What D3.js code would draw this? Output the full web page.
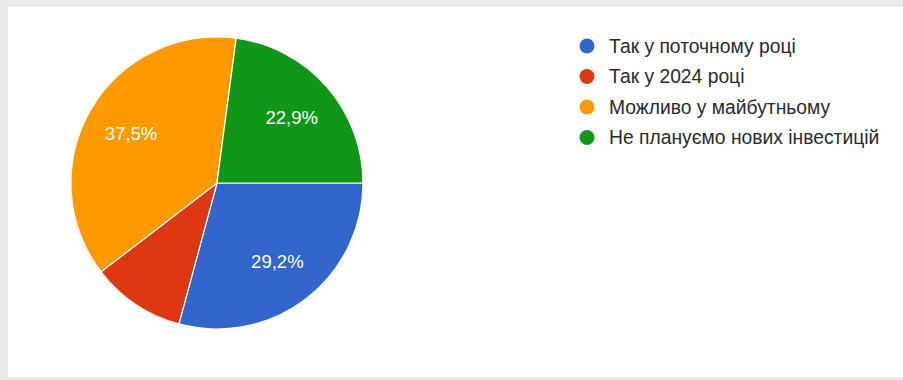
<!DOCTYPE html>
<html>
<head>
<meta charset="utf-8">
<script src="https://cdn.jsdelivr.net/npm/d3@7"></script>
<style>
  html, body { margin: 0; padding: 0; background: #e9e9e9; }
  svg { display: block; }
</style>
</head>
<body>
<svg id="chart" width="903" height="380"></svg>
<script>
const categories = ["Так у поточному році", "Так у 2024 році", "Можливо у майбутньому", "Не плануємо нових інвестицій"];
const values = [29.2, 10.4, 37.5, 22.9];
const labels = ["29,2%", "", "37,5%", "22,9%"];
const colors = ["#3366cc", "#dc3912", "#ff9900", "#109618"];

const svg = d3.select("#chart");
svg.append("rect").attr("x", 8).attr("y", 7).attr("width", 895).attr("height", 370).attr("fill", "#ffffff");

const cx = 217, cy = 183, r = 146;
const data = categories.map((c, i) => ({ cat: c, value: values[i], label: labels[i], color: colors[i] }));
const pie = d3.pie().value(d => d.value).sort(null).startAngle(Math.PI / 2).endAngle(Math.PI / 2 + 2 * Math.PI);
const arc = d3.arc().innerRadius(0).outerRadius(r);
const labelArc = d3.arc().innerRadius(r * 0.68).outerRadius(r * 0.68);

const g = svg.append("g").attr("transform", `translate(${cx},${cy})`);
const arcs = pie(data);
g.selectAll("path").data(arcs).join("path")
  .attr("d", arc).attr("fill", d => d.data.color)
  .attr("stroke", "#ffffff").attr("stroke-width", 1.2);

g.selectAll("text").data(arcs.filter(d => d.data.label)).join("text")
  .attr("transform", d => `translate(${labelArc.centroid(d)})`)
  .attr("text-anchor", "middle").attr("dominant-baseline", "central")
  .attr("font-family", "Liberation Sans, Arial, sans-serif").attr("font-size", 18.5)
  .attr("fill", "#ffffff")
  .text(d => d.data.label);

const yScale = d3.scalePoint().domain(categories).range([46, 137.5]);
const leg = svg.append("g");
const rows = leg.selectAll("g").data(data).join("g")
  .attr("transform", d => `translate(587,${yScale(d.cat)})`);
rows.append("circle").attr("r", 7.5).attr("fill", d => d.color);
rows.append("text").attr("x", 22).attr("dominant-baseline", "central")
  .attr("font-family", "Liberation Sans, Arial, sans-serif").attr("font-size", 19.3)
  .attr("fill", "#2a2a2a").text(d => d.cat);
</script>
</body>
</html>
